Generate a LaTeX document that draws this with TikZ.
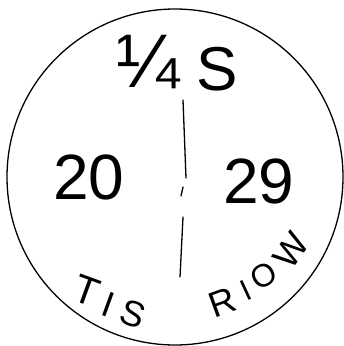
\documentclass[tikz,border=0pt]{standalone}
\usepackage{fontspec}
\setmainfont{Liberation Sans}
\begin{document}
\begin{tikzpicture}[x=1pt,y=-1pt,
  ink/.style={line width=1.3pt,line cap=round},
  hw/.style={inner sep=0pt,font=\fontsize{#1}{#1}\selectfont}]
\useasboundingbox (0,0) rectangle (344,346);
\node[draw,circle,line width=1.3pt,minimum size=336pt,inner sep=0pt] (ring) at (175,177) {};
\coordinate (t1) at (183,100);
\coordinate (t2) at (186,178);
\coordinate (m1) at (183,187);
\coordinate (m2) at (181,196);
\coordinate (b1) at (183,217);
\coordinate (b2) at (180,277);
\draw[ink] (t1) -- (t2);
\draw[ink] (m1) -- (m2);
\draw[ink] (b1) -- (b2);
\node[hw=64] (twenty) at (89,177) {20};
\node[hw=64] (twentynine) at (259,181) {29};
\node[hw=76] (quarter) at (148,62) {¼};
\node[hw=62] (s) at (217,69) {S};
\node[hw=40,rotate=-20] (tT) at (87,291) {T};
\node[hw=36,rotate=-20] (tI) at (108,305) {I};
\node[hw=36,rotate=-20] (tS) at (133,314) {S};
\node[hw=36,rotate=20] (rR) at (222,302) {R};
\node[hw=30,rotate=25] (rI) at (246,290) {I};
\node[hw=32,rotate=30] (rO) at (264,276) {O};
\node[hw=36,rotate=55] (rW) at (291,250) {W};
\end{tikzpicture}
\end{document}
